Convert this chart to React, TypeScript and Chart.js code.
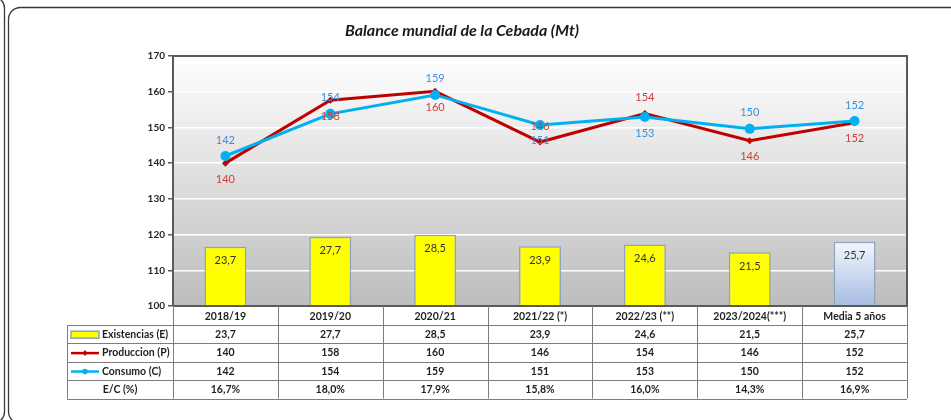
import React, { useEffect, useRef } from "react";
import { Chart, registerables } from "chart.js";

Chart.register(...registerables);

const categories = ["2018/19", "2019/20", "2020/21", "2021/22 (*)", "2022/23 (**)", "2023/2024(***)", "Media 5 años"];
const existencias = [23.7, 27.7, 28.5, 23.9, 24.6, 21.5, 25.7];
const produccion = [140, 157.6, 160.1, 145.9, 153.9, 146.3, 151.3];
const consumo = [142, 153.8, 159.1, 150.7, 152.9, 149.6, 151.8];
const existenciasTabla = ["23,7", "27,7", "28,5", "23,9", "24,6", "21,5", "25,7"];
const produccionTabla = ["140", "158", "160", "146", "154", "146", "152"];
const consumoTabla = ["142", "154", "159", "151", "153", "150", "152"];
const ecTabla = ["16,7%", "18,0%", "17,9%", "15,8%", "16,0%", "14,3%", "16,9%"];
const yTicks = [100, 110, 120, 130, 140, 150, 160, 170];

const FONT = "Lato, 'Open Sans', sans-serif";
const RED = "#c00000";
const BLUE = "#00b0f0";
const BAR_BORDER = "#8ea3bf";
// label placement: 1 = above, -1 = below
const redLabelSide = [-1, -1, -1, 1, 1, -1, -1];
const blueLabelSide = [1, 1, 1, -1, -1, 1, 1];

const framePlugin = {
  id: "frame",
  beforeDraw(chart: any) {
    const { ctx, chartArea: a } = chart;
    ctx.save();
    ctx.fillStyle = "#ffffff";
    ctx.fillRect(0, 0, chart.width, chart.height);
    // outer frames
    ctx.strokeStyle = "#3a3a3a";
    ctx.lineWidth = 1.3;
    ctx.beginPath();
    (ctx as any).roundRect(-200, -3, 204.5, 426, 11);
    ctx.stroke();
    ctx.beginPath();
    (ctx as any).roundRect(8.5, 7.5, 1000, 416, 12);
    ctx.stroke();
    // plot background gradient
    const g = ctx.createLinearGradient(0, a.top, 0, a.bottom);
    g.addColorStop(0, "#ffffff");
    g.addColorStop(1, "#bdbdbd");
    ctx.fillStyle = g;
    ctx.fillRect(a.left, a.top, a.right - a.left, a.bottom - a.top);
    // title
    ctx.fillStyle = "#1a1a1a";
    ctx.font = `italic bold 16px ${FONT}`;
    ctx.textAlign = "center";
    ctx.textBaseline = "middle";
    ctx.fillText("Balance mundial de la Cebada (Mt)", 462, 31);
    ctx.restore();
  },
  afterDraw(chart: any) {
    const { ctx, chartArea: a } = chart;
    const x = chart.scales.x;
    ctx.save();
    // plot border
    ctx.strokeStyle = "#5a5a5a";
    ctx.lineWidth = 2;
    ctx.beginPath();
    ctx.moveTo(a.left, a.top);
    ctx.lineTo(a.right, a.top);
    ctx.lineTo(a.right, a.bottom);
    ctx.lineTo(a.left, a.bottom);
    ctx.stroke();

    // data labels for lines
    ctx.textAlign = "center";
    ctx.textBaseline = "middle";
    ctx.font = `11px ${FONT}`;
    const metaP = chart.getDatasetMeta(1);
    const metaC = chart.getDatasetMeta(2);
    metaP.data.forEach((pt: any, i: number) => {
      ctx.fillStyle = "#d23a3a";
      ctx.fillText(produccionTabla[i], pt.x, pt.y - redLabelSide[i] * 16);
    });
    metaC.data.forEach((pt: any, i: number) => {
      ctx.fillStyle = "#3a8fd8";
      ctx.fillText(consumoTabla[i], pt.x, pt.y - blueLabelSide[i] * 16);
    });
    // bar labels
    const metaB = chart.getDatasetMeta(0);
    metaB.data.forEach((b: any, i: number) => {
      ctx.fillStyle = "#333333";
      ctx.fillText(existenciasTabla[i], b.x, b.y + 14);
    });

    // data table
    const step = x.getPixelForValue(1) - x.getPixelForValue(0);
    const top = a.bottom;
    const headerH = 19;
    const rowH = 18.4;
    const labelLeft = 67;
    const rows = [existenciasTabla, produccionTabla, consumoTabla, ecTabla];
    const bottom = top + headerH + rowH * rows.length;

    ctx.strokeStyle = "#7d7d7d";
    ctx.lineWidth = 1;
    ctx.beginPath();
    for (let i = 0; i <= categories.length; i++) {
      const bx = Math.round(x.getPixelForValue(0) - step / 2 + i * step) + 0.5;
      ctx.moveTo(bx, top);
      ctx.lineTo(bx, bottom);
    }
    ctx.moveTo(labelLeft + 0.5, top + headerH);
    ctx.lineTo(labelLeft + 0.5, bottom);
    for (let r = 0; r <= rows.length; r++) {
      const y = Math.round(top + headerH + r * rowH) + 0.5;
      ctx.moveTo(labelLeft, y);
      ctx.lineTo(a.right, y);
    }
    ctx.stroke();

    ctx.fillStyle = "#1f1f1f";
    ctx.font = `bold 10.5px ${FONT}`;
    categories.forEach((c, i) => {
      ctx.fillText(c, x.getPixelForValue(i), top + headerH / 2 + 1);
    });
    rows.forEach((row, r) => {
      const cy = top + headerH + r * rowH + rowH / 2 + 0.5;
      row.forEach((v, i) => ctx.fillText(v, x.getPixelForValue(i), cy));
    });

    // legend keys
    const rowC = (r: number) => top + headerH + r * rowH + rowH / 2 + 0.5;
    ctx.textAlign = "left";
    const keyL = 71, keyR = 99;
    // existencias
    ctx.fillStyle = "#ffff00";
    ctx.fillRect(keyL, rowC(0) - 3.5, keyR - keyL, 7);
    ctx.strokeStyle = BAR_BORDER;
    ctx.lineWidth = 1.5;
    ctx.strokeRect(keyL, rowC(0) - 3.5, keyR - keyL, 7);
    // produccion
    ctx.strokeStyle = RED;
    ctx.lineWidth = 2.5;
    ctx.beginPath();
    ctx.moveTo(keyL, rowC(1));
    ctx.lineTo(keyR, rowC(1));
    ctx.stroke();
    ctx.fillStyle = RED;
    ctx.beginPath();
    ctx.moveTo(85, rowC(1) - 3);
    ctx.lineTo(87.5, rowC(1));
    ctx.lineTo(85, rowC(1) + 3);
    ctx.lineTo(82.5, rowC(1));
    ctx.closePath();
    ctx.fill();
    // consumo
    ctx.strokeStyle = BLUE;
    ctx.beginPath();
    ctx.moveTo(keyL, rowC(2));
    ctx.lineTo(keyR, rowC(2));
    ctx.stroke();
    ctx.fillStyle = BLUE;
    ctx.beginPath();
    ctx.arc(85, rowC(2), 2.8, 0, Math.PI * 2);
    ctx.fill();

    ctx.fillStyle = "#1f1f1f";
    ctx.font = `bold 10.5px ${FONT}`;
    ctx.fillText("Existencias (E)", 102, rowC(0));
    ctx.fillText("Produccion (P)", 102, rowC(1));
    ctx.fillText("Consumo (C)", 102, rowC(2));
    ctx.textAlign = "center";
    ctx.fillText("E/C (%)", 120, rowC(3));
    ctx.restore();
  },
};

export default function App() {
  const ref = useRef<HTMLCanvasElement | null>(null);
  useEffect(() => {
    document.body.style.margin = "0";
    const canvas = ref.current!;
    const chart = new Chart(canvas, {
      type: "bar",
      data: {
        labels: categories,
        datasets: [
          {
            type: "bar",
            label: "Existencias (E)",
            data: existencias,
            yAxisID: "y2",
            order: 3,
            backgroundColor: (c: any) => {
              if (c.dataIndex === categories.length - 1) {
                const { ctx, chartArea } = c.chart;
                if (!chartArea) return "#c5d3ea";
                const g = ctx.createLinearGradient(0, chartArea.bottom - 65, 0, chartArea.bottom);
                g.addColorStop(0, "#f4f7fc");
                g.addColorStop(1, "#a7bce2");
                return g;
              }
              return "#ffff00";
            },
            borderColor: BAR_BORDER,
            borderWidth: 1.5,
            barPercentage: 0.4,
            categoryPercentage: 1,
          },
          {
            type: "line",
            label: "Produccion (P)",
            data: produccion,
            yAxisID: "y",
            order: 1,
            borderColor: RED,
            backgroundColor: RED,
            borderWidth: 3,
            pointStyle: "rectRot",
            pointRadius: 3.5,
            pointBorderWidth: 0,
          },
          {
            type: "line",
            label: "Consumo (C)",
            data: consumo,
            yAxisID: "y",
            order: 0,
            borderColor: BLUE,
            backgroundColor: BLUE,
            borderWidth: 3,
            pointStyle: "circle",
            pointRadius: 5,
            pointBorderWidth: 0,
          },
        ],
      },
      options: {
        responsive: false,
        animation: false,
        devicePixelRatio: 1,
        layout: { padding: { top: 56, right: 44, bottom: 114, left: 0 } },
        plugins: { legend: { display: false }, title: { display: false }, tooltip: { enabled: false } },
        scales: {
          x: {
            display: false,
            offset: true,
          },
          y: {
            min: 100,
            max: 170,
            afterFit: (s: any) => {
              s.width = 173;
            },
            afterBuildTicks: (s: any) => {
              s.ticks = yTicks.map((v) => ({ value: v }));
            },
            grid: {
              color: "#ffffff",
              lineWidth: 1.5,
              tickColor: "#5a5a5a",
              tickLength: 5,
              drawOnChartArea: true,
            },
            border: { display: true, color: "#5a5a5a", width: 2 },
            ticks: {
              padding: 3,
              color: "#262626",
              font: { family: FONT, size: 10, weight: "bold" },
            },
          },
          y2: {
            display: false,
            min: 0,
            max: 100,
          },
        },
      },
      plugins: [framePlugin],
    } as any);
    return () => chart.destroy();
  }, []);
  return (
    <div style={{ position: "absolute", left: 0, top: 0, width: 951, height: 420 }}>
      <canvas ref={ref} width={951} height={420} style={{ width: 951, height: 420, display: "block" }} />
    </div>
  );
}
